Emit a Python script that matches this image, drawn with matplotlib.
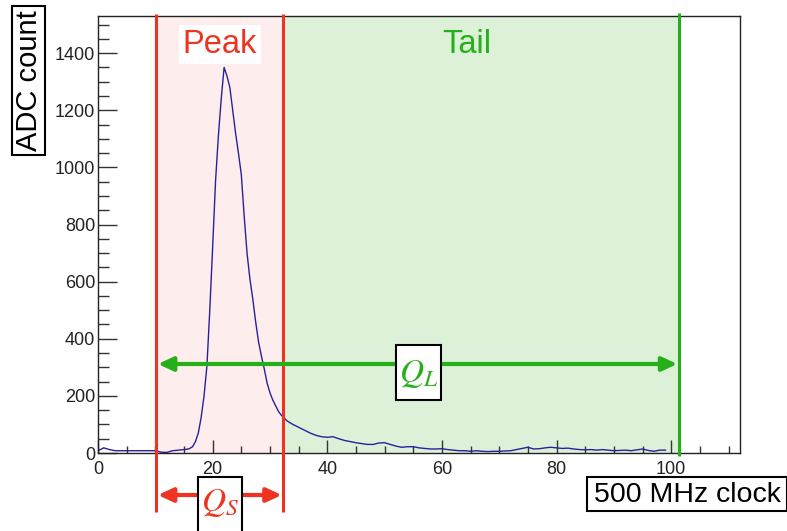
import matplotlib
matplotlib.use("Agg")
import matplotlib.pyplot as plt
import matplotlib.transforms as mtransforms
from matplotlib.patches import Rectangle
from matplotlib.ticker import MultipleLocator

plt.rcParams['font.family'] = ['Liberation Sans', 'DejaVu Sans']
plt.rcParams['mathtext.fontset'] = 'stix'

# Waveform samples (500 MHz clock ticks vs ADC count)
clock = [0, 1, 2, 3, 4, 5, 6, 7, 8, 9, 10, 11, 12, 13, 14,
         15, 15.5, 16, 16.5, 17, 17.5, 18, 18.5, 19, 19.5, 20, 20.5, 21, 21.5,
         22, 22.5, 23, 23.5, 24, 24.5, 25, 25.5, 26, 26.5, 27, 27.5, 28, 28.5,
         29, 29.5, 30, 30.5, 31, 31.5, 32, 32.5, 33,
         34, 35, 36, 37, 38, 39, 40, 41, 42, 43, 44, 45, 46, 47, 48, 49,
         50, 51, 52, 53, 54, 55, 56, 57, 58, 59, 60, 61, 62, 63, 64, 65, 66,
         67, 68, 69, 70, 71, 72, 73, 74, 75, 76, 77, 78, 79, 80, 81, 82, 83,
         84, 85, 86, 87, 88, 89, 90, 91, 92, 93, 94, 95, 96, 97, 98, 99]
adc = [8, 18, 12, 8, 8, 8, 8, 8, 8, 8, 8, 3, 2, 8, 10,
       12, 13, 16, 22, 40, 70, 125, 200, 304, 500, 720, 950, 1110, 1240,
       1350, 1320, 1280, 1200, 1120, 1050, 975, 830, 700, 610, 540, 460, 390, 340,
       295, 245, 211, 185, 165, 145, 132, 122, 112,
       100, 90, 80, 70, 62, 57, 55, 57, 50, 44, 40, 36, 33, 30, 30, 35,
       36, 30, 24, 20, 22, 22, 18, 16, 14, 14, 15, 12, 10, 8, 8, 6, 8,
       6, 5, 6, 6, 7, 8, 12, 16, 20, 14, 15, 18, 20, 18, 16, 17, 14,
       12, 11, 12, 10, 12, 10, 8, 9, 10, 8, 11, 14, 9, 6, 10, 10]

# Integration window boundaries
peak_start = 10.2
peak_end = 32.3
tail_end = 101.3

x_ticks = [0, 20, 40, 60, 80, 100]
y_ticks = [0, 200, 400, 600, 800, 1000, 1200, 1400]

RED = '#ee3322'
GREEN = '#25b01a'
PINK_FILL = '#fdeeed'
GREEN_FILL = '#dcf1d8'

W, H = 787, 531
fig = plt.figure(figsize=(W / 100, H / 100), dpi=100)
ax = fig.add_axes([98 / W, 1 - 453 / H, (740 - 98) / W, (453 - 16) / H])
ax.set_xlim(0, 112)
ax.set_ylim(0, 1530)

ax.axvspan(peak_start, peak_end, color=PINK_FILL, zorder=0, lw=0)
ax.axvspan(peak_end, tail_end, color=GREEN_FILL, zorder=0, lw=0)

ax.plot(clock, adc, color='#2a1f9c', lw=1.0, zorder=3)

ax.set_xticks(x_ticks)
ax.set_yticks(y_ticks)
ax.xaxis.set_minor_locator(MultipleLocator(5))
ax.yaxis.set_minor_locator(MultipleLocator(50))
ax.tick_params(axis='x', which='major', direction='in', length=9.5, width=1.0,
               color='#333333', labelsize=13, pad=6, labelcolor='#222222')
ax.tick_params(axis='x', which='minor', direction='in', length=5, width=1.0,
               color='#333333')
ax.tick_params(axis='y', which='major', direction='in', length=14, width=1.0,
               color='#333333', labelsize=13, pad=2, labelcolor='#222222')
ax.tick_params(axis='y', which='minor', direction='in', length=8, width=1.0,
               color='#333333')
for s in ax.spines.values():
    s.set_linewidth(1.0)
    s.set_color('#222222')
    s.set_zorder(5)

trans = mtransforms.blended_transform_factory(ax.transData, ax.transAxes)


def px_box(x0, y0, x1, y1):
    """Framed white box given in figure pixel coordinates (origin top-left)."""
    fig.patches.append(Rectangle((x0 / W, 1 - y1 / H), (x1 - x0) / W, (y1 - y0) / H,
                                 transform=fig.transFigure, fc='white', ec='black',
                                 lw=1.5, zorder=7))


# Window boundary lines
for xv in (peak_start, peak_end):
    ax.plot([xv, xv], [-0.135, 1.005], transform=trans, color=RED, lw=2.2,
            clip_on=False, zorder=6, solid_capstyle='butt')
ax.plot([tail_end, tail_end], [-0.007, 1.007], transform=trans, color=GREEN, lw=2.2,
        clip_on=False, zorder=6, solid_capstyle='butt')

# Window labels
ax.text((peak_start + peak_end) / 2, 0.935, 'Peak', transform=trans,
        color=RED, fontsize=23.5, ha='center', va='center', zorder=7,
        bbox=dict(boxstyle='square,pad=0.12', fc='white', ec='none'))
ax.text(64.3, 0.935, 'Tail', transform=trans, color=GREEN, fontsize=23.5,
        ha='center', va='center', zorder=7)

# Q_L arrow
arrow_y_long = (453 - 364) / 437
ax.annotate('', xy=(peak_start + 0.25, arrow_y_long), xytext=(tail_end - 0.25, arrow_y_long),
            xycoords=trans, textcoords=trans,
            arrowprops=dict(arrowstyle='<|-|>,head_length=0.9,head_width=0.42',
                            color=GREEN, lw=3, shrinkA=0, shrinkB=0),
            zorder=6, annotation_clip=False)
px_box(396, 345, 441, 400)
fig.text(418.5 / W, 1 - 374 / H, r'$Q_L$', color=GREEN, fontsize=24,
         ha='center', va='center', zorder=8)

# Q_S arrow
arrow_y_short = (453 - 495) / 437
ax.annotate('', xy=(peak_start + 0.25, arrow_y_short), xytext=(peak_end - 0.25, arrow_y_short),
            xycoords=trans, textcoords=trans,
            arrowprops=dict(arrowstyle='<|-|>,head_length=0.9,head_width=0.42',
                            color=RED, lw=3, shrinkA=0, shrinkB=0),
            zorder=6, annotation_clip=False)
px_box(198, 477, 242, 533)
fig.text(220 / W, 1 - 503 / H, r'$Q_S$', color=RED, fontsize=24,
         ha='center', va='center', zorder=8)

# Axis titles in framed boxes
px_box(12, 6, 45, 155)
fig.text(29 / W, 1 - 81 / H, 'ADC count', rotation=90, fontsize=21,
         ha='center', va='center', zorder=8)
px_box(587, 477, 787, 511)
fig.text(687 / W, 1 - 494.5 / H, '500 MHz clock', fontsize=20.5,
         ha='center', va='center', zorder=8)

fig.savefig('out.png', dpi=100)
